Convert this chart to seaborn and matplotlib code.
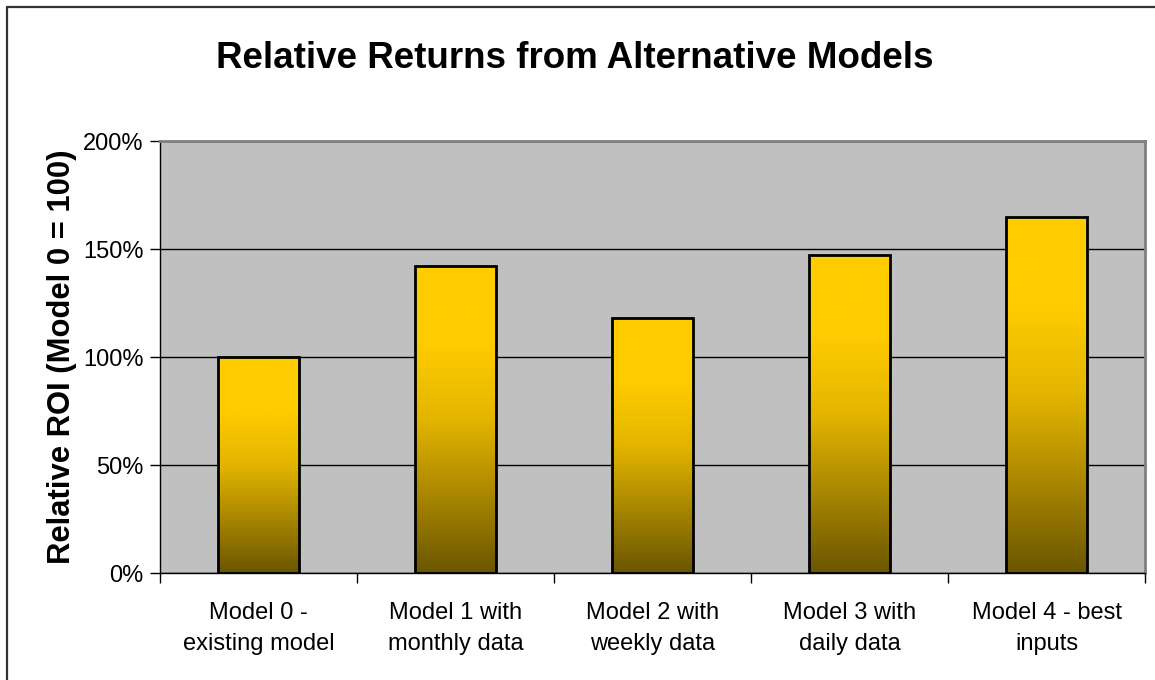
import numpy as np
import matplotlib.pyplot as plt
import seaborn as sns
import pandas as pd
from matplotlib.colors import LinearSegmentedColormap
from matplotlib.ticker import PercentFormatter
from matplotlib.lines import Line2D

models = [
    "Model 0 -\nexisting model",
    "Model 1 with\nmonthly data",
    "Model 2 with\nweekly data",
    "Model 3 with\ndaily data",
    "Model 4 - best\ninputs",
]
relative_roi = [100, 142, 118, 147, 165]

df = pd.DataFrame({"model": models, "roi": relative_roi})

sns.set_style("white")
plt.rcParams["font.family"] = ["Liberation Sans", "DejaVu Sans"]
plt.rcParams["text.color"] = "black"
plt.rcParams["axes.labelcolor"] = "black"
plt.rcParams["xtick.color"] = "black"
plt.rcParams["ytick.color"] = "black"

W, H = 1155, 680
fig = plt.figure(figsize=(W / 100, H / 100), dpi=100)
ax = fig.add_axes([160 / W, 1 - 573 / H, 985 / W, 432 / H])
ax.set_facecolor("#c0c0c0")

sns.barplot(data=df, x="model", y="roi", ax=ax, width=0.41,
            color="#ffcc00", edgecolor="black", linewidth=2, zorder=3)

# vertical gold-to-olive gradient clipped to each bar
grad_cmap = LinearSegmentedColormap.from_list(
    "gold", ["#6b5600", "#a88600", "#e3b500", "#ffcc00", "#ffcc00"])
grad = np.linspace(0, 1, 256).reshape(-1, 1)
for bar in ax.patches:
    x0, y0 = bar.get_x(), bar.get_y()
    w, h = bar.get_width(), bar.get_height()
    im = ax.imshow(grad, cmap=grad_cmap, aspect="auto", origin="lower",
                   extent=[x0, x0 + w, y0, y0 + h], zorder=3.5)
    im.set_clip_path(bar)
    bar.set_facecolor("none")
    bar.set_zorder(4)

ax.set_xlim(-0.5, len(models) - 0.5)
ax.set_ylim(0, 200)
ax.set_yticks([0, 50, 100, 150, 200])
ax.yaxis.set_major_formatter(PercentFormatter(decimals=0))
ax.grid(axis="y", color="black", linewidth=1, zorder=1)
ax.set_axisbelow(True)

for side in ["top", "right"]:
    ax.spines[side].set_color("#808080")
    ax.spines[side].set_linewidth(2)
for side in ["left", "bottom"]:
    ax.spines[side].set_color("black")
    ax.spines[side].set_linewidth(1)

ax.set_xticks(np.arange(-0.5, len(models), 1), minor=True)
ax.tick_params(axis="x", which="major", length=0, labelbottom=False)
ax.tick_params(axis="x", which="minor", length=7, width=1, color="black",
               direction="out", bottom=True)
ax.tick_params(axis="y", length=7, width=1, color="black", direction="out",
               left=True, labelsize=17, pad=5)

# category labels as text so the two-line spacing can follow the original
for i, name in enumerate(models):
    ax.text(i, -0.068, name, transform=ax.get_xaxis_transform(), ha="center",
            va="top", fontsize=17, linespacing=1.5)

ax.set_xlabel("")
ax.set_ylabel("Relative ROI (Model 0 = 100)", fontsize=22.3, fontweight="bold")
ax.yaxis.set_label_coords(-0.084, 0.5)

fig.suptitle("Relative Returns from Alternative Models", fontsize=26.5,
             fontweight="bold", y=1 - 58 / H, va="center", x=575 / W,
             color="black")

# chart-area frame: only its left and top edges fall inside the image
fig.add_artist(Line2D([7 / W, 7 / W], [0, 1 - 7 / H], color="#333333",
                      linewidth=1.6, transform=fig.transFigure))
fig.add_artist(Line2D([7 / W, 1], [1 - 7 / H, 1 - 7 / H], color="#333333",
                      linewidth=1.6, transform=fig.transFigure))

fig.savefig("out.png", dpi=100)
